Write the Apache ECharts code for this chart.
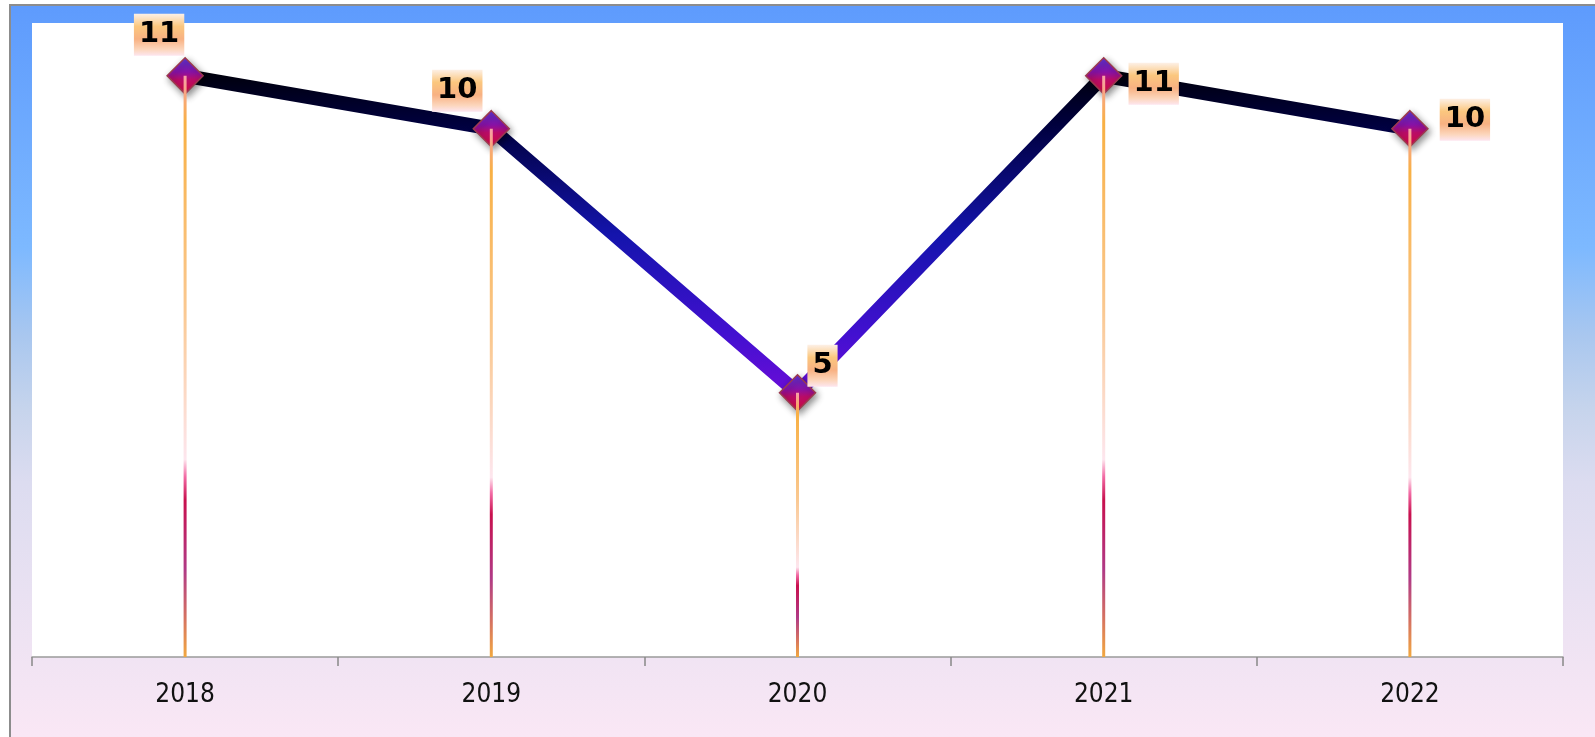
<!DOCTYPE html>
<html>
<head>
<meta charset="utf-8">
<script src="https://cdn.jsdelivr.net/npm/echarts@6/dist/echarts.min.js"></script>
<style>
  html, body { margin: 0; padding: 0; width: 1595px; height: 737px; overflow: hidden; background: #ffffff; }
  #frame { position: absolute; left: 9px; top: 4px; width: 1586px; height: 733px;
           border-left: 2px solid #8c8c8c; border-top: 2px solid #8c8c8c; }
  #chart { width: 1586px; height: 733px; }
</style>
</head>
<body>
<div id="frame"><div id="chart"></div></div>
<script>
// ---- data ----
var categories = ['2018', '2019', '2020', '2021', '2022'];
var values = [11, 10, 5, 11, 10];

// ---- label placement (styling, centre offset of each value box from its point) ----
var labelOffsets = [[-26, -41], [-34, -38], [25, -27], [50, 8], [55, -9]];

var G = echarts.graphic.LinearGradient;

var labelBg = new G(0, 0, 0, 1, [
  { offset: 0, color: '#fdf0e6' },
  { offset: 0.3, color: '#fbc77e' },
  { offset: 0.6, color: '#f8b182' },
  { offset: 0.85, color: '#fcd6bc' },
  { offset: 1, color: '#fde6f0' }
]);

var lineData = values.map(function (v, i) {
  return {
    value: v,
    label: { offset: labelOffsets[i] }
  };
});

var chart = echarts.init(document.getElementById('chart'), null, { renderer: 'canvas' });
chart.setOption({
  animation: false,
  backgroundColor: new G(0, 0, 0, 1, [
    { offset: 0, color: '#5e9bfd' },
    { offset: 0.33, color: '#7db9ff' },
    { offset: 0.45, color: '#a9c7ef' },
    { offset: 0.55, color: '#c6d4ec' },
    { offset: 0.65, color: '#dcdcf0' },
    { offset: 0.8, color: '#e9e1f2' },
    { offset: 1, color: '#fae7f5' }
  ]),
  grid: {
    left: 21, right: 34, top: 17, bottom: 82,
    show: true, backgroundColor: '#ffffff', borderWidth: 0
  },
  xAxis: {
    type: 'category',
    data: categories,
    boundaryGap: true,
    axisLine: { lineStyle: { color: '#9a9a9a', width: 1.5 } },
    axisTick: { show: true, length: 9, lineStyle: { color: '#888888', width: 1.5 } },
    axisLabel: {
      color: '#111111', fontSize: 26, margin: 25,
      fontFamily: '"DejaVu Sans Condensed", "DejaVu Sans", sans-serif'
    },
    splitLine: { show: false }
  },
  yAxis: {
    type: 'value', min: 0, max: 12, show: false,
    splitLine: { show: false }
  },
  series: [
    {
      type: 'line',
      data: lineData,
      z: 2,
      symbol: 'diamond',
      symbolSize: 36,
      lineStyle: {
        width: 14,
        color: new G(0, 0, 0, 1, [
          { offset: 0, color: '#000008' },
          { offset: 0.17, color: '#00003e' },
          { offset: 0.5, color: '#1414ac' },
          { offset: 0.8, color: '#4210d0' },
          { offset: 1, color: '#6e0cd8' }
        ])
      },
      itemStyle: {
        color: new G(0, 0, 0, 1, [
          { offset: 0, color: '#5a36d8' },
          { offset: 0.4, color: '#8a12a8' },
          { offset: 0.6, color: '#b80c68' },
          { offset: 1, color: '#d80c40' }
        ]),
        borderColor: '#9c3a4e',
        borderWidth: 1.5,
        shadowColor: 'rgba(0,0,0,0.45)',
        shadowBlur: 7,
        shadowOffsetX: 2,
        shadowOffsetY: 3
      },
      label: {
        show: true,
        position: 'inside',
        align: 'center',
        verticalAlign: 'middle',
        color: '#000000',
        fontSize: 29,
        fontWeight: 'bold',
        fontFamily: '"DejaVu Sans", Verdana, sans-serif',
        lineHeight: 29,
        padding: [7, 5, 6, 5],
        backgroundColor: labelBg
      },
      emphasis: { disabled: true }
    },
    {
      type: 'bar',
      data: values,
      z: 5,
      barWidth: 3,
      silent: true,
      itemStyle: {
        color: new G(0, 0, 0, 1, [
          { offset: 0, color: '#f8a0a8' },
          { offset: 0.08, color: '#f8b044' },
          { offset: 0.4, color: '#fac890' },
          { offset: 0.66, color: '#fde6ee' },
          { offset: 0.69, color: '#f26aa4' },
          { offset: 0.73, color: '#c8104e' },
          { offset: 0.85, color: '#b03a86' },
          { offset: 0.93, color: '#d47062' },
          { offset: 1, color: '#f2a840' }
        ])
      },
      emphasis: { disabled: true }
    }
  ]
});
</script>
</body>
</html>
